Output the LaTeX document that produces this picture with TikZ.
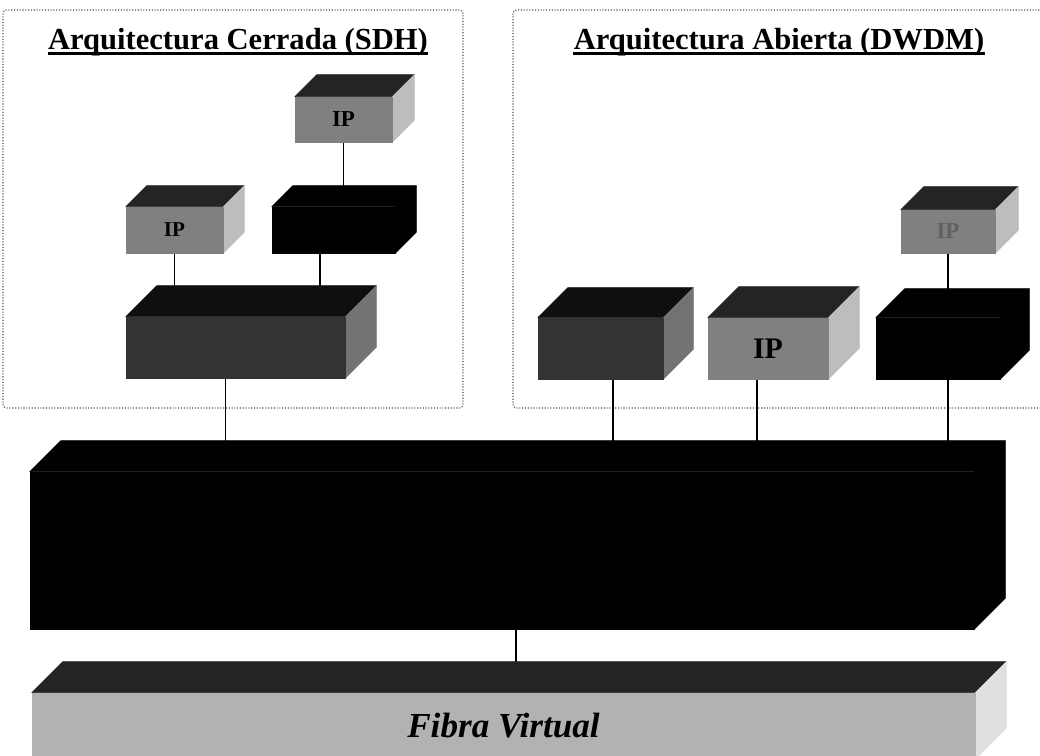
\documentclass[tikz,border=0pt]{standalone}
\usepackage{fontspec}
\setmainfont{Liberation Serif}
\usetikzlibrary{calc,backgrounds}
\definecolor{ipfr}{gray}{0.5}
\definecolor{iptp}{gray}{0.14}
\definecolor{ipld}{gray}{0.74}
\definecolor{osfr}{gray}{0.2}
\definecolor{ostp}{gray}{0.06}
\definecolor{osld}{gray}{0.45}
\definecolor{fbfr}{gray}{0.7}
\definecolor{fbtp}{gray}{0.14}
\definecolor{fbld}{gray}{0.88}
\tikzset{
  marco/.style={densely dotted,draw=black!70,line width=.6pt,rounded corners=2pt},
  enl/.style={draw=black,line width=.8pt},
  tit/.style={font=\fontsize{17.4}{20}\selectfont\bfseries,anchor=base,inner sep=0pt},
  subr/.style={draw=black,line width=1.3pt},
  tam/.style 2 args={minimum width=#1*.2mm,minimum height=#2*.2mm},
  ipt/.style={font=\fontsize{#1}{#1}\selectfont\bfseries},
  % the node is the front face; top and side faces hang off its corners
  caja/.style n args={4}{rectangle,inner sep=0pt,fill=#1,draw=#1,line width=.3pt,
    append after command={\pgfextra{
      \filldraw[fill=#2,draw=#2,line width=.3pt,line join=round] (\tikzlastnode.north west) -- ++(#4,-#4)
        -- ([shift={(#4,-#4)}]\tikzlastnode.north east) -- (\tikzlastnode.north east) -- cycle;
      \filldraw[fill=#3,draw=#3,line width=.3pt,line join=round] (\tikzlastnode.north east) -- ++(#4,-#4)
        -- ([shift={(#4,-#4)}]\tikzlastnode.south east) -- (\tikzlastnode.south east) -- cycle;}}},
  ip/.style={caja={ipfr}{iptp}{ipld}{#1},ipt=13,text=black},
  osc/.style={caja={osfr}{ostp}{osld}{#1}},
  neg/.style={caja={black}{black}{black}{#1}},
  fib/.style={caja={fbfr}{fbtp}{fbld}{#1},font=\fontsize{20}{22}\selectfont\bfseries\itshape},
}
\begin{document}
\begin{tikzpicture}[x=.2mm,y=-.2mm]
\useasboundingbox (0,0) rectangle (1040,756);
% ---- the two dotted panels
\begin{scope}[on background layer]
  \draw[marco] (3,10) rectangle (463,408);
  \draw[marco] (513,10) rectangle (1060,408);
\end{scope}
\node[tit] (tcerr) at (238,50) {Arquitectura Cerrada (SDH)};
\node[tit] (tabie) at (779,50) {Arquitectura Abierta (DWDM)};
\draw[subr] ($(tcerr.base west)+(0,3.5)$) -- ($(tcerr.base east)+(0,3.5)$);
\draw[subr] ($(tabie.base west)+(0,3.5)$) -- ($(tabie.base east)+(0,3.5)$);
% ---- closed architecture
\node[ip=22,tam={97}{45}] (ipb) at (343.5,119.5) {IP};
\node[neg=21,tam={123}{46}] (sdha) at (333.5,230) {};
\node[ip=21,ipt=12,tam={97}{46}] (ipa) at (174.5,230) {IP};
\node[osc=31,tam={219}{61}] (basea) at (235.5,347.5) {};
% ---- open architecture
\node[osc=30,tam={125}{61}] (nodo1) at (600.5,348.5) {};
\node[ip=31,ipt=17,tam={120}{61}] (ipc) at (768,348.5) {IP};
\node[neg=29,tam={124}{61}] (nodo3) at (938,348.5) {};
\node[ip=23,text=black!62,tam={94}{43}] (ipd) at (948,231.5) {IP};
% ---- transport and fibre
\node[neg=31,tam={944}{157}] (dwdm) at (502,550.5) {};
\node[fib=31,tam={943}{66}] (fibra) at (503.5,726) {Fibra Virtual};
% ---- links, ending at the back edge of the lower box
\begin{scope}[on background layer]
  \draw[enl] (ipb.south) -- ($(ipb.south |- sdha.north)+(0,-21)$);
  \draw[enl] (ipa.south) -- ($(ipa.south |- basea.north)+(0,-31)$);
  \draw[enl] ($(sdha.south)+(-13.5,0)$) -- ($(sdha.south |- basea.north)+(-13.5,-31)$);
  \draw[enl] ($(basea.south)+(-10,0)$) -- ($(basea.south |- dwdm.north)+(-10,-31)$);
  \draw[enl] ($(nodo1.south)+(12.5,0)$) -- ($(nodo1.south |- dwdm.north)+(12.5,-31)$);
  \draw[enl] ($(ipc.south)+(-11,0)$) -- ($(ipc.south |- dwdm.north)+(-11,-31)$);
  \draw[enl] ($(nodo3.south)+(10,0)$) -- ($(nodo3.south |- dwdm.north)+(10,-31)$);
  \draw[enl] (ipd.south) -- ($(ipd.south |- nodo3.north)+(0,-29)$);
  \draw[enl] ($(dwdm.south)+(14,0)$) -- ($(dwdm.south |- fibra.north)+(14,-31)$);
\end{scope}
\end{tikzpicture}
\end{document}
